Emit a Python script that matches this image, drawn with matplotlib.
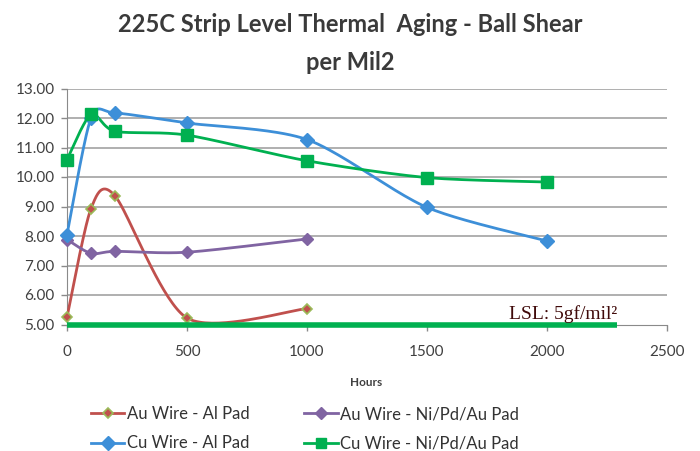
import numpy as np
import matplotlib
matplotlib.use("Agg")
import matplotlib.pyplot as plt
from matplotlib.lines import Line2D

# ---- data ----
au_al_x = [0, 100, 200, 500, 1000]
au_al_y = [5.25, 8.93, 9.36, 5.22, 5.54]

au_ni_x = [0, 100, 200, 500, 1000]
au_ni_y = [7.88, 7.41, 7.48, 7.45, 7.90]

cu_al_x = [0, 100, 200, 500, 1000, 1500, 2000]
cu_al_y = [8.05, 12.00, 12.17, 11.83, 11.27, 8.97, 7.83]

cu_ni_x = [0, 100, 200, 500, 1000, 1500, 2000]
cu_ni_y = [10.59, 12.12, 11.55, 11.42, 10.55, 9.98, 9.83]

lsl_x = [0, 2290]
lsl_y = [5.0, 5.0]

labels = ["Au Wire - Al Pad", "Au Wire - Ni/Pd/Au Pad",
          "Cu Wire - Al Pad", "Cu Wire - Ni/Pd/Au Pad"]
x_ticks = [0, 500, 1000, 1500, 2000, 2500]
y_ticks = [5, 6, 7, 8, 9, 10, 11, 12, 13]

title_lines = ["225C Strip Level Thermal  Aging - Ball Shear", "per Mil2"]


def smooth(xs, ys, n=40, k=0.135):
    """Excel-like smoothed line: cubic Bezier through the points."""
    P = np.column_stack([xs, ys]).astype(float)
    out = []
    m = len(P)
    for i in range(m - 1):
        p0 = P[i - 1] if i > 0 else P[i]
        p1 = P[i]
        p2 = P[i + 1]
        p3 = P[i + 2] if i + 2 < m else P[i + 1]
        c1 = p1 + (p2 - p0) * k
        c2 = p2 - (p3 - p1) * k
        t = np.linspace(0, 1, n)[:, None]
        seg = ((1 - t) ** 3) * p1 + 3 * ((1 - t) ** 2) * t * c1 + 3 * (1 - t) * t ** 2 * c2 + t ** 3 * p2
        if i > 0:
            seg = seg[1:]
        out.append(seg)
    c = np.vstack(out)
    return c[:, 0], c[:, 1]


plt.rcParams['font.family'] = ['Lato', 'DejaVu Sans']

fig = plt.figure(figsize=(7, 4.51), dpi=100)
ax = fig.add_axes([67 / 700, 1 - 324.5 / 451, 600 / 700, 236 / 451])

red = "#c0504d"
purple = "#8064a2"
blue = "#3d8fd8"
green = "#00b050"

for y in y_ticks[1:]:
    ax.axhline(y, color="#9a9a9a", lw=1.1, zorder=1)

series = [
    (au_al_x, au_al_y, red, dict(marker="D", ms=5, mfc=red, mec="#9bbb59", mew=1.2)),
    (au_ni_x, au_ni_y, purple, dict(marker="D", ms=6, mfc=purple, mec=purple)),
    (cu_al_x, cu_al_y, blue, dict(marker="D", ms=7, mfc=blue, mec=blue)),
    (cu_ni_x, cu_ni_y, green, dict(marker="s", ms=8, mfc=green, mec=green)),
]
for xs, ys, col, mk in series:
    sx, sy = smooth(xs, ys)
    ax.plot(sx, sy, color=col, lw=2.0, zorder=3, solid_capstyle="round")
    ax.plot(xs, ys, ls="none", zorder=4, clip_on=False, **mk)

ax.plot(lsl_x, lsl_y, color=green, lw=4, zorder=5, solid_capstyle="butt", clip_on=False)
ax.text(2067, 5.19, "LSL: 5gf/mil²", fontsize=14, color="#400a0a",
        family="Liberation Serif", ha="center", va="baseline", zorder=6)

ax.set_xlim(0, 2500)
ax.set_ylim(5, 13)
ax.set_xticks(x_ticks)
ax.set_yticks(y_ticks)
ax.set_yticklabels([f"{v:.2f}" for v in y_ticks])
ax.tick_params(axis="both", labelsize=11, length=4, width=1,
               colors="#8a8a8a", labelcolor="#404040")
ax.tick_params(axis="x", pad=11)
ax.tick_params(axis="y", pad=5)
for s in ["top", "right"]:
    ax.spines[s].set_visible(False)
ax.spines["left"].set_color("#8a8a8a")
ax.spines["bottom"].set_color("#8a8a8a")

fig.text(366 / 700, 1 - 382 / 451, "Hours", fontsize=8.5, fontweight="bold",
         color="#404040", ha="center", va="center")

fig.text(0.5, 1 - 25 / 451, title_lines[0], fontsize=17, fontweight="bold",
         color="#3a3a3a", ha="center", va="center")
fig.text(0.5, 1 - 62 / 451, title_lines[1], fontsize=17, fontweight="bold",
         color="#3a3a3a", ha="center", va="center")

handles = [
    Line2D([], [], color=red, lw=2, marker="D", ms=5, mfc=red, mec="#9bbb59", mew=1.2),
    Line2D([], [], color=blue, lw=2, marker="D", ms=7, mfc=blue, mec=blue),
    Line2D([], [], color=purple, lw=2, marker="D", ms=6, mfc=purple, mec=purple),
    Line2D([], [], color=green, lw=2, marker="s", ms=7, mfc=green, mec=green),
]
leg_labels = [labels[0], labels[2], labels[1], labels[3]]
leg = fig.legend(handles, leg_labels, loc="upper left", bbox_to_anchor=(76 / 700, 1 - 391 / 451),
                 ncol=2, frameon=False, fontsize=12, handlelength=2.0, handletextpad=0.15,
                 columnspacing=3.3, labelspacing=0.8)
for t in leg.get_texts():
    t.set_color("#333333")

fig.savefig("out.png", dpi=100)
